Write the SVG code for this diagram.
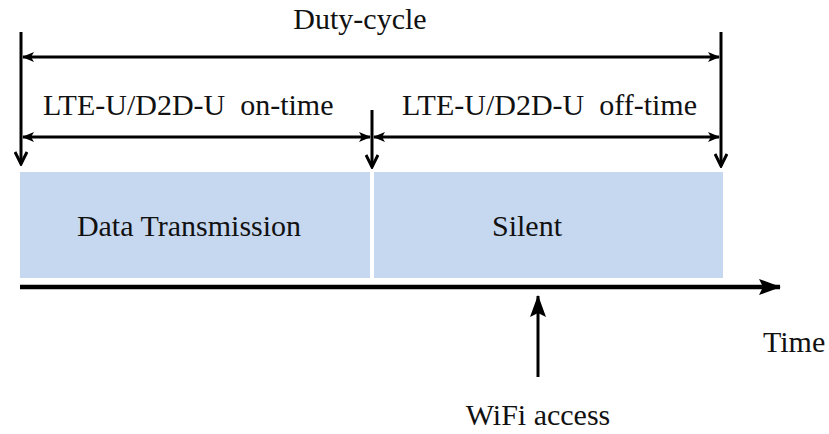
<svg xmlns="http://www.w3.org/2000/svg" width="829" height="434" viewBox="0 0 829 434">
<defs>
<style>
.t{font-family:"Liberation Serif","Times New Roman",serif;font-size:30px;fill:#111;}
.ln{stroke:#000;stroke-width:3;fill:none;}
.box{fill:#c6d8ef;}
</style>
<marker id="tri" viewBox="0 0 12 12" refX="11" refY="6" markerWidth="12" markerHeight="12" markerUnits="userSpaceOnUse" orient="auto-start-reverse">
<path d="M0,1 L12,6 L0,11 L3,6 Z" fill="#000"/>
</marker>
<marker id="big" viewBox="0 0 22 16" refX="21" refY="8" markerWidth="22" markerHeight="16" markerUnits="userSpaceOnUse" orient="auto">
<path d="M0,0 L22,8 L0,16 L4,8 Z" fill="#000"/>
</marker>
<marker id="vee" viewBox="0 0 16 14" refX="14" refY="7" markerWidth="16" markerHeight="14" markerUnits="userSpaceOnUse" orient="auto">
<path d="M2,1 L14,7 L2,13" fill="none" stroke="#000" stroke-width="3"/>
</marker>
</defs>
<g id="node-data"><rect class="box" x="20" y="172" width="350" height="106"/><text class="t" x="189" y="236" text-anchor="middle">Data Transmission</text></g>
<g id="node-silent"><rect class="box" x="374" y="172" width="349" height="106"/><text class="t" x="527" y="236" text-anchor="middle">Silent</text></g>
<g id="labels">
<text class="t" x="360" y="29" text-anchor="middle">Duty-cycle</text>
<text class="t" x="43" y="115" xml:space="preserve">LTE-U/D2D-U  on-time</text>
<text class="t" x="402" y="115" xml:space="preserve">LTE-U/D2D-U  off-time</text>
<text class="t" x="763" y="352">Time</text>
<text class="t" x="538" y="425" text-anchor="middle">WiFi access</text>
</g>
<g id="connectors">
<line class="ln" x1="21" y1="32" x2="21" y2="164" marker-end="url(#vee)"/>
<line class="ln" x1="372" y1="110" x2="372" y2="167" marker-end="url(#vee)"/>
<line class="ln" x1="721" y1="32" x2="721" y2="166" marker-end="url(#vee)"/>
<line class="ln" x1="23" y1="57" x2="719" y2="57" marker-start="url(#tri)" marker-end="url(#tri)"/>
<line class="ln" x1="23" y1="137" x2="370" y2="137" marker-start="url(#tri)" marker-end="url(#tri)"/>
<line class="ln" x1="374" y1="137" x2="719" y2="137" marker-start="url(#tri)" marker-end="url(#tri)"/>
<line x1="20" y1="287" x2="780" y2="287" stroke="#000" stroke-width="4.5" marker-end="url(#big)"/>
<line x1="538" y1="377" x2="538" y2="296" stroke="#000" stroke-width="3" marker-end="url(#big)"/>
</g>
</svg>
